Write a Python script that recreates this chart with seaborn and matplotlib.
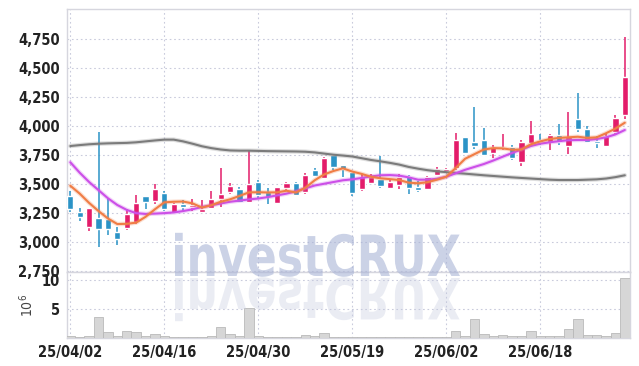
import matplotlib
matplotlib.use('Agg')
import matplotlib.pyplot as plt
import matplotlib.patheffects as pe
import seaborn as sns
import pandas as pd
from matplotlib.textpath import TextPath
from matplotlib.patches import PathPatch
from matplotlib.font_manager import FontProperties
from matplotlib.transforms import Affine2D, IdentityTransform

# daily candles, 2025/04/02 .. 2025/07/01 (trading days)
tick_pos = [0, 10, 20, 30, 40, 50]
tick_labels = ['25/04/02', '25/04/16', '25/04/30', '25/05/19', '25/06/02', '25/06/18']

opens = [3399, 3261, 3134, 3207, 3203, 3089, 3121, 3172, 3396, 3356,
         3428, 3255, 3328, 3307, 3259, 3293, 3373, 3436, 3460, 3350,
         3520, 3433, 3336, 3468, 3511, 3436, 3623, 3557, 3752, 3666,
         3603, 3457, 3514, 3543, 3470, 3497, 3574, 3477, 3457, 3578,
         3615, 3638, 3910, 3867, 3882, 3772, 3810, 3819, 3695, 3858,
         3882, 3867, 3925, 3832, 4063, 3977, 3873, 3832, 3953, 4097]
highs = [3445, 3293, 3300, 3953, 3373, 3129, 3284, 3410, 3396, 3500,
         3442, 3340, 3365, 3370, 3365, 3445, 3643, 3508, 3475, 3790,
         3540, 3465, 3474, 3520, 3520, 3600, 3640, 3735, 3760, 3666,
         3610, 3590, 3590, 3744, 3535, 3590, 3580, 3530, 3570, 3650,
         3645, 3940, 3910, 4164, 3982, 3839, 3931, 3839, 3882, 4048,
         3935, 3935, 4017, 4120, 4284, 4000, 3916, 3935, 4097, 4767]
lows = [3264, 3184, 3097, 2957, 3063, 2974, 3110, 3160, 3284, 3330,
        3270, 3250, 3264, 3270, 3250, 3290, 3307, 3420, 3350, 3336,
        3370, 3330, 3330, 3440, 3400, 3420, 3570, 3550, 3620, 3560,
        3400, 3440, 3500, 3465, 3460, 3460, 3415, 3430, 3450, 3570,
        3600, 3620, 3770, 3805, 3744, 3724, 3800, 3710, 3658, 3839,
        3840, 3795, 3840, 3760, 3953, 3860, 3810, 3820, 3925, 4060]
closes = [3284, 3220, 3298, 3117, 3112, 3026, 3241, 3336, 3350, 3457,
          3284, 3328, 3307, 3321, 3284, 3373, 3416, 3485, 3350, 3503,
          3405, 3388, 3474, 3511, 3410, 3578, 3575, 3727, 3652, 3630,
          3428, 3560, 3565, 3488, 3520, 3560, 3470, 3450, 3560, 3630,
          3630, 3882, 3772, 3832, 3752, 3819, 3819, 3729, 3867, 3930,
          3862, 3925, 3867, 3905, 3974, 3867, 3858, 3916, 4069, 4422]
volume = [0.35, 0.1, 0.35, 3.6, 1.1, 0.35, 1.2, 1.1, 0.35, 0.75,
          0.3, 0.1, 0.1, 0.1, 0.1, 0.3, 1.9, 0.75, 0.35, 5.2,
          0.3, 0.1, 0.25, 0.1, 0.25, 0.5, 0.3, 0.85, 0.1, 0.25,
          0.25, 0.1, 0.1, 0.25, 0.1, 0.1, 0.1, 0.1, 0.1, 0.25,
          0.15, 1.2, 0.3, 3.3, 0.75, 0.3, 0.5, 0.3, 0.3, 1.2,
          0.3, 0.3, 0.3, 1.55, 3.3, 0.57, 0.57, 0.3, 0.86, 10.2]

# moving averages
ma5 = [3488, 3420, 3340, 3270, 3206, 3158, 3160, 3170, 3220, 3285,
       3345, 3350, 3352, 3336, 3300, 3320, 3350, 3371, 3400, 3431,
       3432, 3430, 3431, 3445, 3430, 3470, 3535, 3585, 3615, 3638,
       3610, 3590, 3565, 3552, 3545, 3537, 3515, 3509, 3518, 3540,
       3565, 3640, 3720, 3760, 3800, 3812, 3810, 3798, 3800, 3845,
       3870, 3890, 3900, 3905, 3910, 3900, 3905, 3940, 3980, 4031]
ma20 = [3690, 3600, 3520, 3450, 3380, 3322, 3280, 3252, 3245, 3248,
        3252, 3258, 3270, 3285, 3305, 3320, 3335, 3350, 3360, 3370,
        3378, 3390, 3405, 3420, 3440, 3465, 3490, 3505, 3520, 3535,
        3543, 3555, 3568, 3578, 3580, 3575, 3560, 3540, 3540, 3548,
        3565, 3595, 3625, 3650, 3675, 3705, 3738, 3770, 3800, 3830,
        3850, 3862, 3872, 3880, 3882, 3882, 3890, 3905, 3930, 3968]
ma60 = [3830, 3838, 3845, 3850, 3853, 3855, 3857, 3862, 3870, 3878,
        3885, 3885, 3870, 3850, 3828, 3812, 3800, 3792, 3790, 3790,
        3788, 3786, 3785, 3784, 3783, 3781, 3775, 3765, 3755, 3748,
        3740, 3725, 3710, 3698, 3685, 3670, 3650, 3635, 3622, 3612,
        3605, 3598, 3592, 3585, 3578, 3572, 3566, 3560, 3555, 3550,
        3545, 3540, 3537, 3537, 3537, 3540, 3543, 3550, 3562, 3578]

df = pd.DataFrame({'open': opens, 'high': highs, 'low': lows, 'close': closes,
                   'volume': volume, 'ma5': ma5, 'ma20': ma20, 'ma60': ma60})
df['i'] = range(len(df))

sns.set_style('white')
plt.rcParams['font.family'] = ['DejaVu Sans']
plt.rcParams['font.stretch'] = 'condensed'

UP = '#e31c6a'
DOWN = '#2b93c6'
GRID = '#c9cbdc'
SPINE = '#d6d6de'

fig = plt.figure(figsize=(6.39, 3.66), dpi=100)
ax = fig.add_axes([0.1049, 0.2568, 0.881, 0.7186])
axv = fig.add_axes([0.1049, 0.0765, 0.881, 0.1803], sharex=ax)

# candles
colors = [UP if c >= o else DOWN for o, c in zip(df['open'], df['close'])]
ax.vlines(df['i'], df['low'], df['high'], colors=colors, linewidth=1.1, zorder=3)
bottoms = [min(o, c) for o, c in zip(df['open'], df['close'])]
heights = [max(abs(c - o), 8) for o, c in zip(df['open'], df['close'])]
ax.bar(df['i'], heights, bottom=bottoms, width=0.66, color=colors, zorder=4)

# moving averages
glow = lambda c: [pe.Stroke(linewidth=3.2, foreground=c, alpha=0.25), pe.Normal()]
sns.lineplot(data=df, x='i', y='ma60', ax=ax, color='#7b7b7b', linewidth=1.5,
             zorder=5, path_effects=glow('#7b7b7b'))
sns.lineplot(data=df, x='i', y='ma20', ax=ax, color='#cc4fe8', linewidth=1.5,
             zorder=5, path_effects=glow('#cc4fe8'))
sns.lineplot(data=df, x='i', y='ma5', ax=ax, color='#f07d45', linewidth=1.5,
             zorder=6, path_effects=glow('#f07d45'))

ax.set_xlim(-0.35, 59.55)
ax.set_ylim(2745, 5010)
ax.set_yticks(range(2750, 4751, 250))
ax.set_yticklabels([f'{v:,}' for v in range(2750, 4751, 250)])
ax.set_xlabel('')
ax.set_ylabel('')
ax.tick_params(axis='x', labelbottom=False, length=0)

# volume
axv.bar(df['i'], df['volume'], width=1.0, color='#d6d6d6', edgecolor='#b9b9b9',
        linewidth=0.6, zorder=3)
axv.set_ylim(0, 11.3)
axv.set_yticks([5, 10])
axv.set_yticklabels(['5', '10'])
axv.set_xticks(tick_pos)
axv.set_xticklabels(tick_labels)
axv.set_ylabel(r'$10^6$', fontsize=10, color='#444444', labelpad=4)

for a in (ax, axv):
    a.grid(True, color=GRID, linestyle=(0, (1.5, 2.5)), linewidth=0.8)
    a.set_axisbelow(True)
    a.tick_params(length=0, labelsize=10.5, colors='#222222', pad=5)
    for s in a.spines.values():
        s.set_color(SPINE)
        s.set_linewidth(1.0)
    for lab in a.get_xticklabels() + a.get_yticklabels():
        lab.set_fontweight('semibold')
ax.set_xticks(tick_pos)

# watermark with reflection
prop = FontProperties(family='DejaVu Sans', weight='bold', stretch='normal')
tp = TextPath((0, 0), 'investCRUX', size=100, prop=prop)
ext = tp.get_extents()
sx = 285 / ext.width
sy = 44 / ext.height
x0, base = 175, 366 - 276
t_main = Affine2D().translate(-ext.x0, 0).scale(sx, sy).translate(x0, base)
t_refl = Affine2D().translate(-ext.x0, 0).scale(sx, -sy).translate(x0, base - 2)
for tr, col, al in [(t_main, '#a9b4d6', 0.6), (t_refl, '#c4cadf', 0.35)]:
    patch = PathPatch(tr.transform_path(tp), facecolor=col, edgecolor='none',
                      alpha=al, transform=IdentityTransform(), zorder=10)
    fig.patches.append(patch)
    patch.set_figure(fig)

fig.savefig('out.png', dpi=100)
